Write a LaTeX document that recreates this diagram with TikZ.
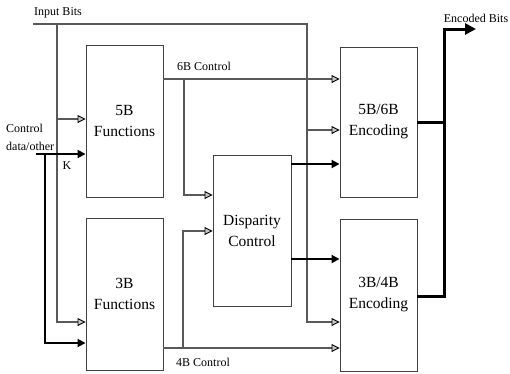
\documentclass[tikz,border=0pt]{standalone}
\usepackage{fontspec}
\setmainfont{Liberation Serif}
\usetikzlibrary{arrows.meta}
\begin{document}
\begin{tikzpicture}[x=1pt,y=-1pt,
  box/.style={draw=black!75, line width=0.9pt, inner sep=0pt, align=center,
    font=\fontsize{15.5}{21}\selectfont},
  lbl/.style={font=\fontsize{12}{14}\selectfont, inner sep=0pt},
  gline/.style={draw=black!65, line width=2.3pt},
  garrow/.style={gline, -{Triangle[length=8pt, width=8pt, color=black, fill=gray!45, line width=0.9pt]}},
  barrow/.style={draw=black, line width=1.8pt, -{Triangle[length=8pt, width=8pt]}},
  oline/.style={draw=black, line width=3pt}]
\useasboundingbox (0,0) rectangle (510,373);
% boxes
\node[box, minimum width=77pt, minimum height=152pt] (f5) at (124.5,121) {5B\\Functions};
\node[box, minimum width=77pt, minimum height=152pt] (f3) at (124.5,294) {3B\\Functions};
\node[box, minimum width=78pt, minimum height=151pt] (dc) at (252,230.5) {Disparity\\Control};
\node[box, minimum width=77pt, minimum height=150pt] (e56) at (378.5,122) {5B/6B\\Encoding};
\node[box, minimum width=77pt, minimum height=152pt] (e34) at (378.5,295) {3B/4B\\Encoding};
% labels
\node[lbl] (tib) at (58,13) {Input Bits};
\node[lbl] (t6b) at (204,66) {6B Control};
\node[lbl] (t4b) at (203,362) {4B Control};
\node[lbl] (teb) at (476,18) {Encoded Bits};
\node[lbl, anchor=west] (tc1) at (6,128) {Control};
\node[lbl, anchor=west] (tc2) at (6,146) {data/other};
\node[lbl] (tk) at (67,166) {K};
% coordinates
\coordinate (ib0) at (33,24);
\coordinate (ibA) at (57,24);
\coordinate (ibB) at (307,24);
\coordinate (jA) at (57,119);
\coordinate (jB) at (307,130);
\coordinate (cd0) at (36,154);
\coordinate (cdJ) at (45,154);
\coordinate (j6) at (184,79);
\coordinate (j4) at (183,348);
\coordinate (oT) at (444,29);
\coordinate (oE) at (476,29);
% input bits
\draw[garrow] (ib0) -- (ibB) |- (e34.west |- 0,322);
\draw[garrow] (ibA) |- (f3.west |- 0,322);
\draw[garrow] (jA) -- (f5.west |- jA);
\draw[garrow] (jB) -- (e56.west |- jB);
% control data
\draw[barrow] (cd0) -- (f5.west |- cd0);
\draw[barrow] (cdJ) |- (f3.west |- 0,343);
% 6B / 4B control
\draw[garrow] (f5.east |- j6) -- (e56.west |- j6);
\draw[garrow] (j6) |- (dc.west |- 0,195);
\draw[garrow] (f3.east |- j4) -- (e34.west |- j4);
\draw[garrow] (j4) |- (dc.west |- 0,231);
% disparity outputs
\draw[barrow] (dc.east |- 0,164) -- (e56.west |- 0,164);
\draw[barrow] (dc.east |- 0,259) -- (e34.west |- 0,259);
% outputs
\draw[oline] (e56.east |- 0,122) -- (oT |- 0,122);
\draw[oline] (e34.east |- 0,296) -| (oT) -- ++(18,0);
\draw[draw=black, line width=3pt, -{Triangle[length=11pt, width=11pt]}] (oT) -- (oE);
\end{tikzpicture}
\end{document}
